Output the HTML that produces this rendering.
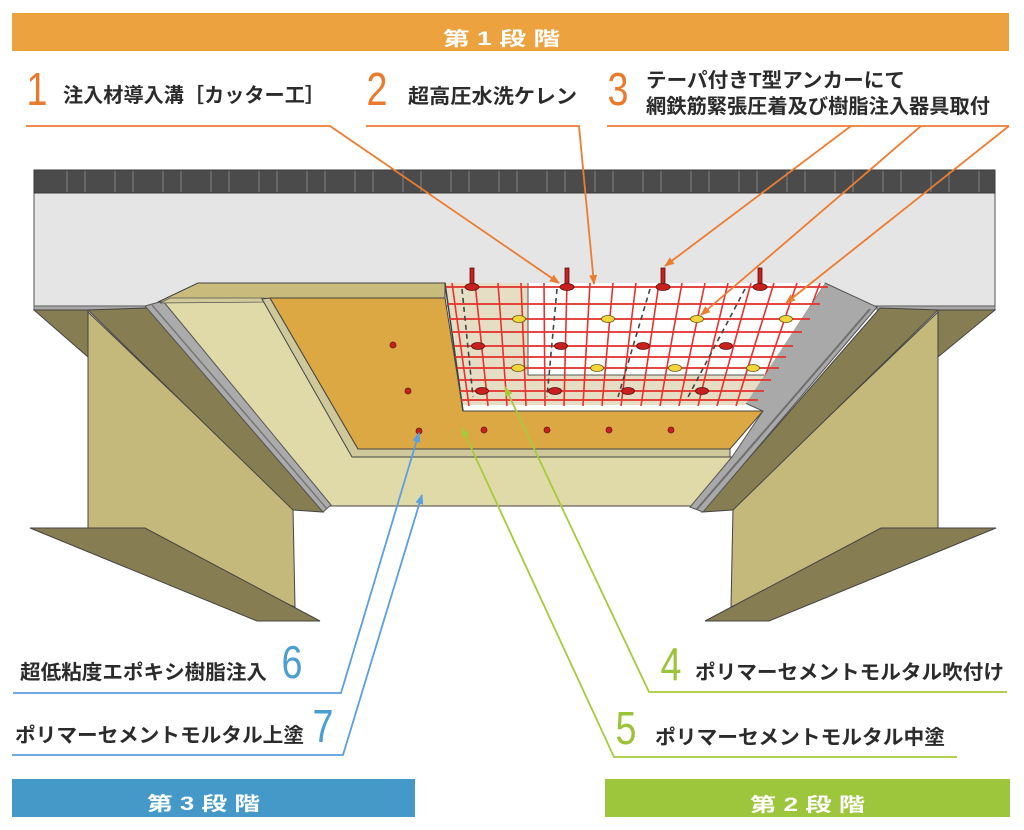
<!DOCTYPE html>
<html><head><meta charset="utf-8"><style>
html,body{margin:0;padding:0;background:#fff;}
svg{display:block;}
.t{font-family:"Liberation Sans","Noto Sans CJK JP",sans-serif;font-weight:bold;fill:#2b2b2b;font-size:20px;}
.b{font-family:"Liberation Sans","Noto Sans CJK JP",sans-serif;font-weight:bold;fill:#fff;font-size:19px;}
.n{font-family:"Liberation Sans","Noto Sans CJK JP",sans-serif;font-size:46px;}
</style></head><body>
<svg width="1024" height="830" viewBox="0 0 1024 830" xmlns="http://www.w3.org/2000/svg">
<defs>
<marker id="ao" markerWidth="10" markerHeight="10" refX="9" refY="5" orient="auto" markerUnits="userSpaceOnUse"><path d="M0,1 L10,5 L0,9 z" fill="#ec7c30"/></marker>
<marker id="ag" markerWidth="10" markerHeight="10" refX="9" refY="5" orient="auto" markerUnits="userSpaceOnUse"><path d="M0,1 L10,5 L0,9 z" fill="#a6ca3c"/></marker>
<marker id="ab" markerWidth="10" markerHeight="10" refX="9" refY="5" orient="auto" markerUnits="userSpaceOnUse"><path d="M0,1 L10,5 L0,9 z" fill="#5a9fe0"/></marker>
<clipPath id="mc"><polygon points="445,283 826,283 745,406 462,406"/></clipPath>
</defs>

<!-- banners -->
<rect x="12" y="13" width="997" height="38" fill="#eca23e"/>
<text class="b" x="443" y="45" textLength="117" lengthAdjust="spacingAndGlyphs">第 1 段 階</text>
<rect x="12" y="779" width="403" height="38" fill="#4599c9"/>
<text class="b" x="147" y="810" textLength="113" lengthAdjust="spacingAndGlyphs">第 3 段 階</text>
<rect x="605" y="779" width="405" height="38" fill="#9dc63d"/>
<text class="b" x="750" y="811" textLength="115" lengthAdjust="spacingAndGlyphs">第 2 段 階</text>

<!-- slab -->
<rect x="34" y="170" width="961" height="136" fill="#e5e5e5" stroke="#555" stroke-width="1"/>
<rect x="34" y="170" width="961" height="23" fill="#4b4b4b" stroke="#3a3a3a" stroke-width="1"/>
<path d="M67,171V192M85,171V192M115,171V192M133,171V192M163,171V192M181,171V192M211,171V192M229,171V192M259,171V192M277,171V192M307,171V192M325,171V192M355,171V192M373,171V192M403,171V192M421,171V192M451,171V192M469,171V192M499,171V192M517,171V192M547,171V192M565,171V192M595,171V192M613,171V192M643,171V192M661,171V192M691,171V192M709,171V192M739,171V192M757,171V192M787,171V192M805,171V192M835,171V192M853,171V192M883,171V192M901,171V192M931,171V192M949,171V192M979,171V192" stroke="#707070" stroke-width="1.5"/>
<rect x="34" y="306" width="113" height="4" fill="#a8a8a8" stroke="#555" stroke-width="0.8"/>
<rect x="877" y="306" width="118" height="4" fill="#a8a8a8" stroke="#555" stroke-width="0.8"/>

<!-- left girder -->
<polygon points="88,312 293,508 295,607 88,528" fill="#c4b87a" stroke="#444" stroke-width="1"/>
<polygon points="34,310 88,310 88,357" fill="#877d52" stroke="#444" stroke-width="1"/>
<polygon points="88,310 147,308 323,512 293,510" fill="#877d52" stroke="#444" stroke-width="1"/>
<polygon points="30,528 145,528 320,621 257,621" fill="#877d52" stroke="#444" stroke-width="1"/>

<!-- right girder -->
<polygon points="938,312 733,508 731,607 938,528" fill="#c4b87a" stroke="#444" stroke-width="1"/>
<polygon points="995,310 938,310 938,357" fill="#877d52" stroke="#444" stroke-width="1"/>
<polygon points="938,310 880,308 702,512 733,510" fill="#877d52" stroke="#444" stroke-width="1"/>
<polygon points="996,528 881,528 705,621 769,621" fill="#877d52" stroke="#444" stroke-width="1"/>

<!-- beige top coat (7) -->
<polygon points="160,302 265,299 355,457 732,457 692,506 328,506" fill="#e0daa8" stroke="#444" stroke-width="1"/>
<!-- left gray stripe -->
<polygon points="145,306 163,301 331,505 323,512" fill="#ababab" stroke="#555" stroke-width="1"/>
<line x1="152" y1="305" x2="327" y2="509" stroke="#777" stroke-width="1.5"/>
<!-- tan slab side strip -->
<polygon points="158,302 198,283 445,283 445,298 163,302" fill="#c8bb7c" stroke="#444" stroke-width="1"/>
<polygon points="160,303 170,298 265,298 266,302" fill="#d2cb99" stroke="#555" stroke-width="0.8"/>

<!-- orange plate (6) -->
<polygon points="262,299 270,298 358,449 730,449 730,457 352,457" fill="#cfc89a" stroke="#444" stroke-width="1"/>
<polygon points="270,298 445,298 463,411 763,411 730,449 358,449" fill="#dba844" stroke="#444" stroke-width="1"/>

<!-- right gray haunch -->
<polygon points="825,283 877,307 703,512 690,507 732,457 763,411 745,403" fill="#a9a9a9" stroke="#555" stroke-width="1"/>
<line x1="870" y1="309" x2="697" y2="509" stroke="#6f6f6f" stroke-width="2"/>

<!-- mesh area -->
<polygon points="445,283 825,283 745,405 462,405" fill="#e5dec4"/>
<polygon points="528,283 825,283 764,375 528,375" fill="#ffffff"/>
<path d="M528,283V375H764" fill="none" stroke="#555" stroke-width="1"/>
<path d="M445,283L463,411" stroke="#444" stroke-width="1.5"/>

<!-- horizontal red lines -->
<g stroke="#e3342f" stroke-width="2" opacity="0.9">
<line x1="446" y1="287" x2="828" y2="287"/>
<line x1="448" y1="304" x2="820" y2="304"/>
<line x1="450" y1="319" x2="810" y2="319"/>
<line x1="452" y1="332" x2="802" y2="332"/>
<line x1="454" y1="346" x2="793" y2="346"/>
<line x1="455" y1="357" x2="786" y2="357"/>
<line x1="457" y1="368" x2="779" y2="368"/>
<line x1="459" y1="380" x2="771" y2="380"/>
<line x1="460" y1="391" x2="764" y2="391"/>
<line x1="461" y1="400" x2="758" y2="400"/>
</g>
<!-- slanted vertical red lines -->
<g stroke="#e3342f" stroke-width="1.6" clip-path="url(#mc)">
<line x1="452" y1="283" x2="469" y2="406"/>
<line x1="475" y1="283" x2="488" y2="406"/>
<line x1="498" y1="283" x2="507" y2="406"/>
<line x1="521" y1="283" x2="526" y2="406"/>
<line x1="544" y1="283" x2="545" y2="406"/>
<line x1="567" y1="283" x2="564" y2="406"/>
<line x1="590" y1="283" x2="583" y2="406"/>
<line x1="613" y1="283" x2="602" y2="406"/>
<line x1="636" y1="283" x2="621" y2="406"/>
<line x1="659" y1="283" x2="641" y2="406"/>
<line x1="682" y1="283" x2="660" y2="406"/>
<line x1="705" y1="283" x2="679" y2="406"/>
<line x1="728" y1="283" x2="698" y2="406"/>
<line x1="751" y1="283" x2="717" y2="406"/>
<line x1="774" y1="283" x2="736" y2="406"/>
<line x1="797" y1="283" x2="755" y2="406"/>
<line x1="820" y1="283" x2="774" y2="406"/>
</g>
<!-- cutter grooves (dashed) -->
<g stroke="#444" stroke-width="1.6" stroke-dasharray="5,4">
<line x1="462" y1="289" x2="473" y2="397"/>
<line x1="557" y1="289" x2="547" y2="397"/>
<line x1="650" y1="289" x2="618" y2="397"/>
<line x1="745" y1="289" x2="688" y2="397"/>
</g>

<!-- anchors -->
<g fill="#c8201e" stroke="#5a1010" stroke-width="0.8">
<rect x="470" y="268" width="4" height="19"/>
<rect x="565" y="268" width="4" height="19"/>
<rect x="661" y="268" width="4" height="19"/>
<rect x="758" y="268" width="4" height="19"/>
<ellipse cx="472" cy="287" rx="7" ry="3.5"/>
<ellipse cx="567" cy="287" rx="7" ry="3.5"/>
<ellipse cx="663" cy="287" rx="7" ry="3.5"/>
<ellipse cx="760" cy="287" rx="7" ry="3.5"/>
<ellipse cx="478" cy="346" rx="6.5" ry="3.5"/>
<ellipse cx="561" cy="346" rx="6.5" ry="3.5"/>
<ellipse cx="643" cy="346" rx="6.5" ry="3.5"/>
<ellipse cx="726" cy="346" rx="6.5" ry="3.5"/>
<ellipse cx="482" cy="391" rx="6.5" ry="3.5"/>
<ellipse cx="555" cy="391" rx="6.5" ry="3.5"/>
<ellipse cx="628" cy="391" rx="6.5" ry="3.5"/>
<ellipse cx="702" cy="391" rx="6.5" ry="3.5"/>
</g>
<g fill="#f0d63a" stroke="#6a5a10" stroke-width="0.8">
<ellipse cx="519" cy="319" rx="6.5" ry="3.5"/>
<ellipse cx="608" cy="319" rx="6.5" ry="3.5"/>
<ellipse cx="697" cy="319" rx="6.5" ry="3.5"/>
<ellipse cx="786" cy="319" rx="6.5" ry="3.5"/>
<ellipse cx="518" cy="368" rx="6.5" ry="3.5"/>
<ellipse cx="597" cy="368" rx="6.5" ry="3.5"/>
<ellipse cx="675" cy="368" rx="6.5" ry="3.5"/>
<ellipse cx="753" cy="368" rx="6.5" ry="3.5"/>
</g>
<!-- resin injection dots on orange -->
<g fill="#c8201e" stroke="#6a1a10" stroke-width="0.8">
<circle cx="393" cy="345" r="3"/>
<circle cx="408" cy="391" r="3"/>
<circle cx="419" cy="431" r="3"/>
<circle cx="484" cy="430" r="3"/>
<circle cx="547" cy="430" r="3"/>
<circle cx="609" cy="430" r="3"/>
<circle cx="671" cy="430" r="3"/>
</g>

<!-- orange leaders -->
<g fill="none" stroke="#ec7c30" stroke-width="1.8">
<polyline points="26,126 330,126 559,283" marker-end="url(#ao)"/>
<polyline points="366,126 579,126 594,284" marker-end="url(#ao)"/>
<polyline points="607,126 1009,126"/>
<line x1="851" y1="126" x2="665" y2="266" marker-end="url(#ao)"/>
<line x1="921" y1="126" x2="701" y2="315" marker-end="url(#ao)"/>
<line x1="1009" y1="126" x2="786" y2="303" marker-end="url(#ao)"/>
</g>
<!-- green leaders -->
<g fill="none" stroke="#a6ca3c" stroke-width="1.8">
<polyline points="1007,692 649,692 505,387" marker-end="url(#ag)"/>
<polyline points="957,757 614,757 462,428" marker-end="url(#ag)"/>
</g>
<!-- blue leaders -->
<g fill="none" stroke="#5a9fe0" stroke-width="1.8">
<polyline points="13,693 341,693 419,433" marker-end="url(#ab)"/>
<polyline points="12,755 343,755 422,495" marker-end="url(#ab)"/>
</g>

<!-- numerals -->
<g fill="#ea7a2c" class="n">
<text class="n" transform="translate(37,105) scale(0.82,1)" text-anchor="middle">1</text>
<text class="n" transform="translate(377,105) scale(0.82,1)" text-anchor="middle">2</text>
<text class="n" transform="translate(618,105) scale(0.82,1)" text-anchor="middle">3</text>
</g>
<g fill="#9cc43a">
<text class="n" transform="translate(671,680) scale(0.82,1)" text-anchor="middle">4</text>
<text class="n" transform="translate(626,744) scale(0.82,1)" text-anchor="middle">5</text>
</g>
<g fill="#4a9fd0">
<text class="n" transform="translate(292,678) scale(0.82,1)" text-anchor="middle">6</text>
<text class="n" transform="translate(323,742) scale(0.82,1)" text-anchor="middle">7</text>
</g>

<!-- labels -->
<text class="t" x="63" y="102" textLength="262" lengthAdjust="spacingAndGlyphs">注入材導入溝［カッター工］</text>
<text class="t" x="408" y="103" textLength="169" lengthAdjust="spacingAndGlyphs">超高圧水洗ケレン</text>
<text class="t" x="646" y="87" textLength="259" lengthAdjust="spacingAndGlyphs">テーパ付きT型アンカーにて</text>
<text class="t" x="646" y="113" textLength="344" lengthAdjust="spacingAndGlyphs">網鉄筋緊張圧着及び樹脂注入器具取付</text>
<text class="t" x="695" y="679" textLength="309" lengthAdjust="spacingAndGlyphs">ポリマーセメントモルタル吹付け</text>
<text class="t" x="655" y="744" textLength="290" lengthAdjust="spacingAndGlyphs">ポリマーセメントモルタル中塗</text>
<text class="t" x="20" y="679" textLength="247" lengthAdjust="spacingAndGlyphs">超低粘度エポキシ樹脂注入</text>
<text class="t" x="15" y="742" textLength="289" lengthAdjust="spacingAndGlyphs">ポリマーセメントモルタル上塗</text>
</svg>
</body></html>
